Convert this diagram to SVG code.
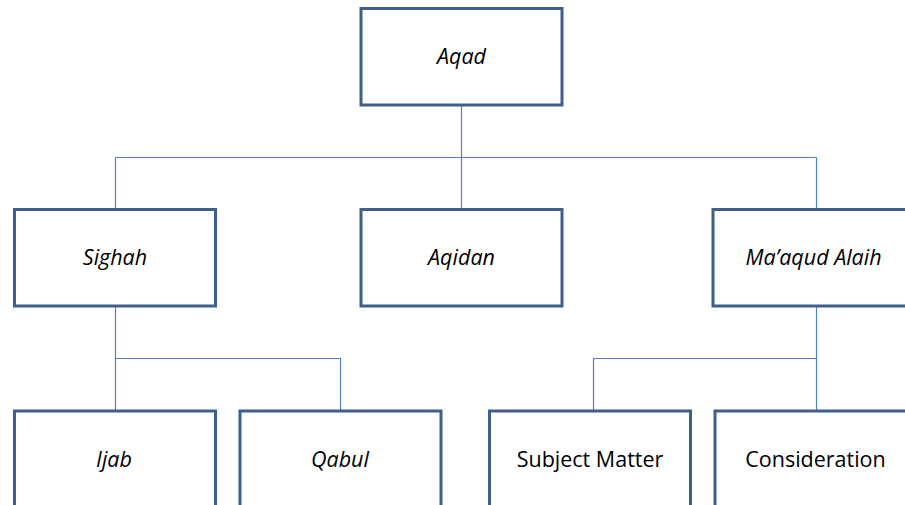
<svg xmlns="http://www.w3.org/2000/svg" width="905" height="505" viewBox="0 0 905 505">
  <style>
    .box { fill: #ffffff; stroke: #3d5f8f; stroke-width: 3; }
    .link { fill: none; stroke: #4f81bd; stroke-width: 1.2; }
    .lbl { font-family: "Open Sans", "Liberation Sans", sans-serif; font-size: 21.5px; fill: #000000; text-anchor: middle; }
    .it { font-style: italic; }
  </style>
  <rect width="905" height="505" fill="#ffffff"/>

  <!-- connectors -->
  <g id="connectors">
    <path class="link" d="M461.5,105 V157.5 M115.5,157.5 H816.5 M115.5,157.5 V209 M461.5,157.5 V209 M816.5,157.5 V209"/>
    <path class="link" d="M115.5,306 V358.5 H340.5 V411 M115.5,358.5 V411"/>
    <path class="link" d="M816.5,306 V358.5 H593.5 V411 M816.5,358.5 V411"/>
  </g>

  <!-- root -->
  <g id="aqad">
    <rect class="box" x="361" y="8.5" width="201" height="96.5"/>
    <text class="lbl it" x="461.5" y="64">Aqad</text>
  </g>

  <!-- second level -->
  <g id="sighah">
    <rect class="box" x="14.5" y="209.5" width="201" height="96.5"/>
    <text class="lbl it" x="115" y="265">Sighah</text>
  </g>
  <g id="aqidan">
    <rect class="box" x="361" y="209.5" width="201" height="96.5"/>
    <text class="lbl it" x="461.5" y="265">Aqidan</text>
  </g>
  <g id="maaqud-alaih">
    <rect class="box" x="713" y="209.5" width="201" height="96.5"/>
    <text class="lbl it" x="813.5" y="265">Ma’aqud Alaih</text>
  </g>

  <!-- third level -->
  <g id="ijab">
    <rect class="box" x="14.5" y="411" width="201" height="96.5"/>
    <text class="lbl it" x="114" y="466.5">Ijab</text>
  </g>
  <g id="qabul">
    <rect class="box" x="240" y="411" width="201" height="96.5"/>
    <text class="lbl it" x="340" y="466.5">Qabul</text>
  </g>
  <g id="subject-matter">
    <rect class="box" x="489.5" y="411" width="201" height="96.5"/>
    <text class="lbl" x="590" y="466.5">Subject Matter</text>
  </g>
  <g id="consideration">
    <rect class="box" x="715" y="411" width="201" height="96.5"/>
    <text class="lbl" x="815.5" y="466.5">Consideration</text>
  </g>
</svg>
